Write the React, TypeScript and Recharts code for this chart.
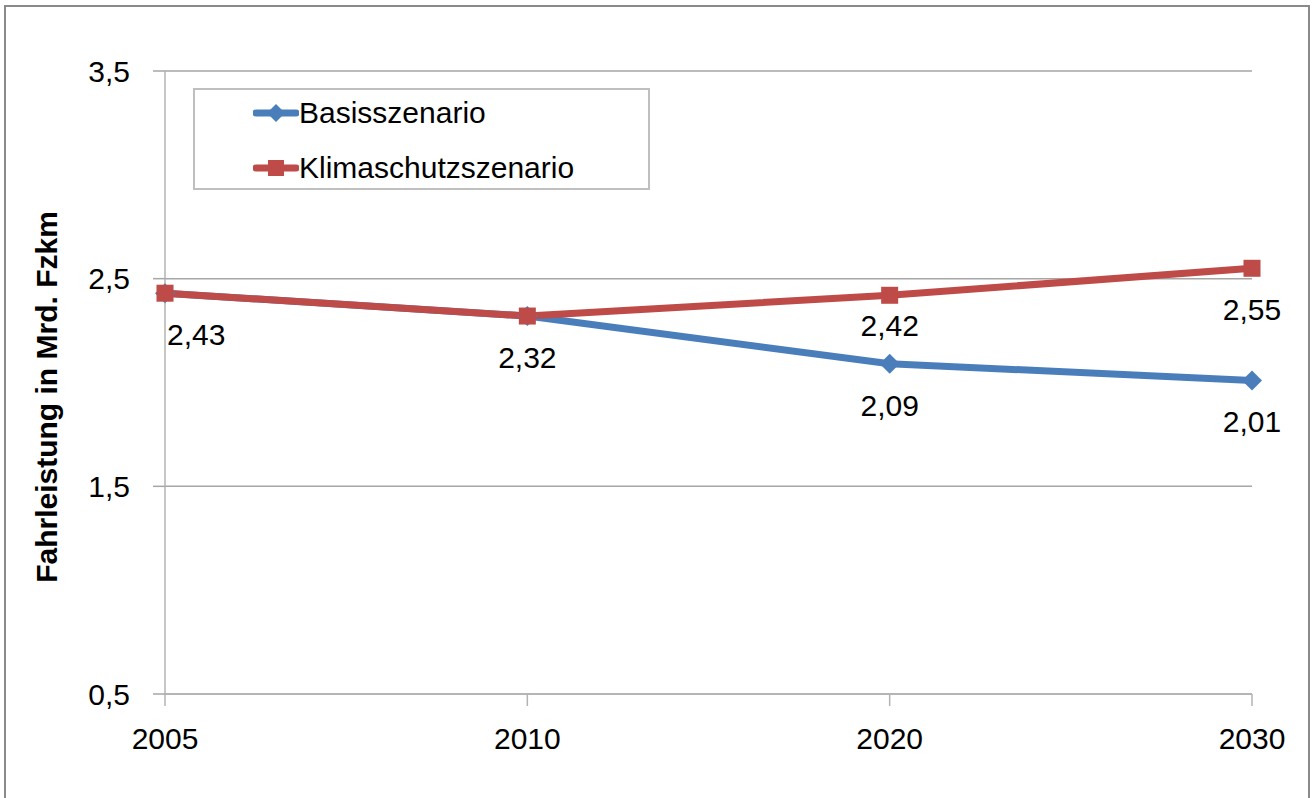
import React from 'react';
import { LineChart, Line, XAxis, YAxis, CartesianGrid, Legend, LabelList } from 'recharts';

const categories = ['2005', '2010', '2020', '2030'];
const basisValues = [2.43, 2.32, 2.09, 2.01];
const klimaValues = [2.43, 2.32, 2.42, 2.55];
const yTicks = [0.5, 1.5, 2.5, 3.5];
const seriesNames = ['Basisszenario', 'Klimaschutzszenario'];
const yAxisTitle = 'Fahrleistung in Mrd. Fzkm';

const data = categories.map((c, i) => ({ year: c, basis: basisValues[i], klima: klimaValues[i] }));

const BLUE = '#4a7ebb';
const RED = '#be4b48';
const FONT = '"Liberation Sans", Arial, sans-serif';
const FS = 30;

const fmt = (v: number) => String(v).replace('.', ',');

const Diamond = (props: any) => {
  const { cx, cy, index } = props;
  if (cx == null || cy == null) return <g key={`bd-${index}`} />;
  const r = 10;
  return <path key={`bd-${index}`} d={`M${cx},${cy - r}L${cx + r},${cy}L${cx},${cy + r}L${cx - r},${cy}Z`} fill={BLUE} />;
};

const Square = (props: any) => {
  const { cx, cy, index } = props;
  if (cx == null || cy == null) return <g key={`rs-${index}`} />;
  const h = 8.5;
  return <rect key={`rs-${index}`} x={cx - h} y={cy - h} width={h * 2} height={h * 2} fill={RED} />;
};

const makeLabel = (series: 'basis' | 'klima') => (props: any) => {
  const index = props.index;
  const x = props.x ?? props.viewBox?.x;
  const y = props.y ?? props.viewBox?.y;
  const value = props.value;
  if (x == null || y == null || value == null) return null;
  if (series === 'basis' && index < 2) return null;
  let dy = 41;
  if (series === 'klima' && index === 2) dy = 30;
  const anchor = series === 'klima' && index === 0 ? 'start' : 'middle';
  const tx = anchor === 'start' ? x + 2 : x;
  return (
    <text key={`${series}-lbl-${index}`} x={tx} y={y + dy + FS * 0.358} textAnchor={anchor} fontFamily={FONT} fontSize={FS} fill="#000">
      {fmt(value)}
    </text>
  );
};

const LegendIcon = ({ color, shape }: { color: string; shape: 'diamond' | 'square' }) => (
  <svg width={46} height={24} style={{ display: 'block' }}>
    <line x1={3} y1={12} x2={43} y2={12} stroke={color} strokeWidth={7} strokeLinecap="round" />
    {shape === 'diamond' ? (
      <path d="M23,3L32,12L23,21L14,12Z" fill={color} />
    ) : (
      <rect x={15} y={4} width={16} height={16} fill={color} />
    )}
  </svg>
);

const renderLegend = () => (
  <div
    style={{
      width: 457,
      height: 102,
      boxSizing: 'border-box',
      border: '2px solid #bfbfbf',
      background: '#fff',
      position: 'relative',
      fontFamily: FONT,
      fontSize: FS,
      color: '#000',
    }}
  >
    {[0, 1].map((i) => (
      <div
        key={i}
        style={{
          position: 'absolute',
          left: 58,
          top: i === 0 ? 5 : 60,
          height: 36,
          display: 'flex',
          alignItems: 'center',
          whiteSpace: 'nowrap',
        }}
      >
        <LegendIcon color={i === 0 ? BLUE : RED} shape={i === 0 ? 'diamond' : 'square'} />
        <span>{seriesNames[i]}</span>
      </div>
    ))}
  </div>
);

export default function App() {
  return (
    <div style={{ position: 'absolute', left: 0, top: 0, width: 1312, height: 798, overflow: 'hidden', background: '#fff' }}>
      <div
        style={{
          position: 'absolute',
          left: 4,
          top: 5,
          width: 1306,
          height: 820,
          boxSizing: 'border-box',
          border: '2px solid #8a8a8a',
        }}
      />
      <div style={{ position: 'absolute', left: 0, top: 0 }}>
        <LineChart width={1312} height={798} data={data} margin={{ top: 71, right: 60, bottom: 0, left: 0 }}>
          <CartesianGrid vertical={false} stroke="#a6a6a6" strokeWidth={1.5} />
          <XAxis
            dataKey="year"
            tickSize={12}
            tickMargin={22}
            height={104}
            axisLine={{ stroke: '#b3b3b3', strokeWidth: 1.5 }}
            tickLine={{ stroke: '#b3b3b3', strokeWidth: 1.5 }}
            tick={{ fill: '#000', fontSize: FS, fontFamily: FONT }}
            interval={0}
          />
          <YAxis
            domain={[0.5, 3.5]}
            ticks={yTicks}
            width={165}
            tickSize={12}
            tickMargin={23}
            tickFormatter={(v: number) => fmt(v)}
            axisLine={{ stroke: '#b3b3b3', strokeWidth: 1.5 }}
            tickLine={{ stroke: '#a6a6a6', strokeWidth: 1.5 }}
            tick={{ fill: '#000', fontSize: FS, fontFamily: FONT }}
            allowDataOverflow
            label={{
              content: () => (
                <text
                  x={57}
                  y={397}
                  transform="rotate(-90 57 397)"
                  textAnchor="middle"
                  fontFamily={FONT}
                  fontSize={30}
                  fontWeight="bold"
                  fill="#000"
                >
                  {yAxisTitle}
                </text>
              ),
            }}
          />
          <Legend
            layout="horizontal"
            verticalAlign="middle"
            align="center"
            content={renderLegend}
            wrapperStyle={{ position: 'absolute', left: 193, top: 88, width: 457, height: 102 }}
          />
          <Line
            type="linear"
            dataKey="basis"
            name={seriesNames[0]}
            stroke={BLUE}
            strokeWidth={7}
            strokeLinejoin="round"
            dot={Diamond}
            activeDot={false}
            isAnimationActive={false}
          >
            <LabelList dataKey="basis" content={makeLabel('basis')} />
          </Line>
          <Line
            type="linear"
            dataKey="klima"
            name={seriesNames[1]}
            stroke={RED}
            strokeWidth={7}
            strokeLinejoin="round"
            dot={Square}
            activeDot={false}
            isAnimationActive={false}
          >
            <LabelList dataKey="klima" content={makeLabel('klima')} />
          </Line>
        </LineChart>
      </div>
    </div>
  );
}
